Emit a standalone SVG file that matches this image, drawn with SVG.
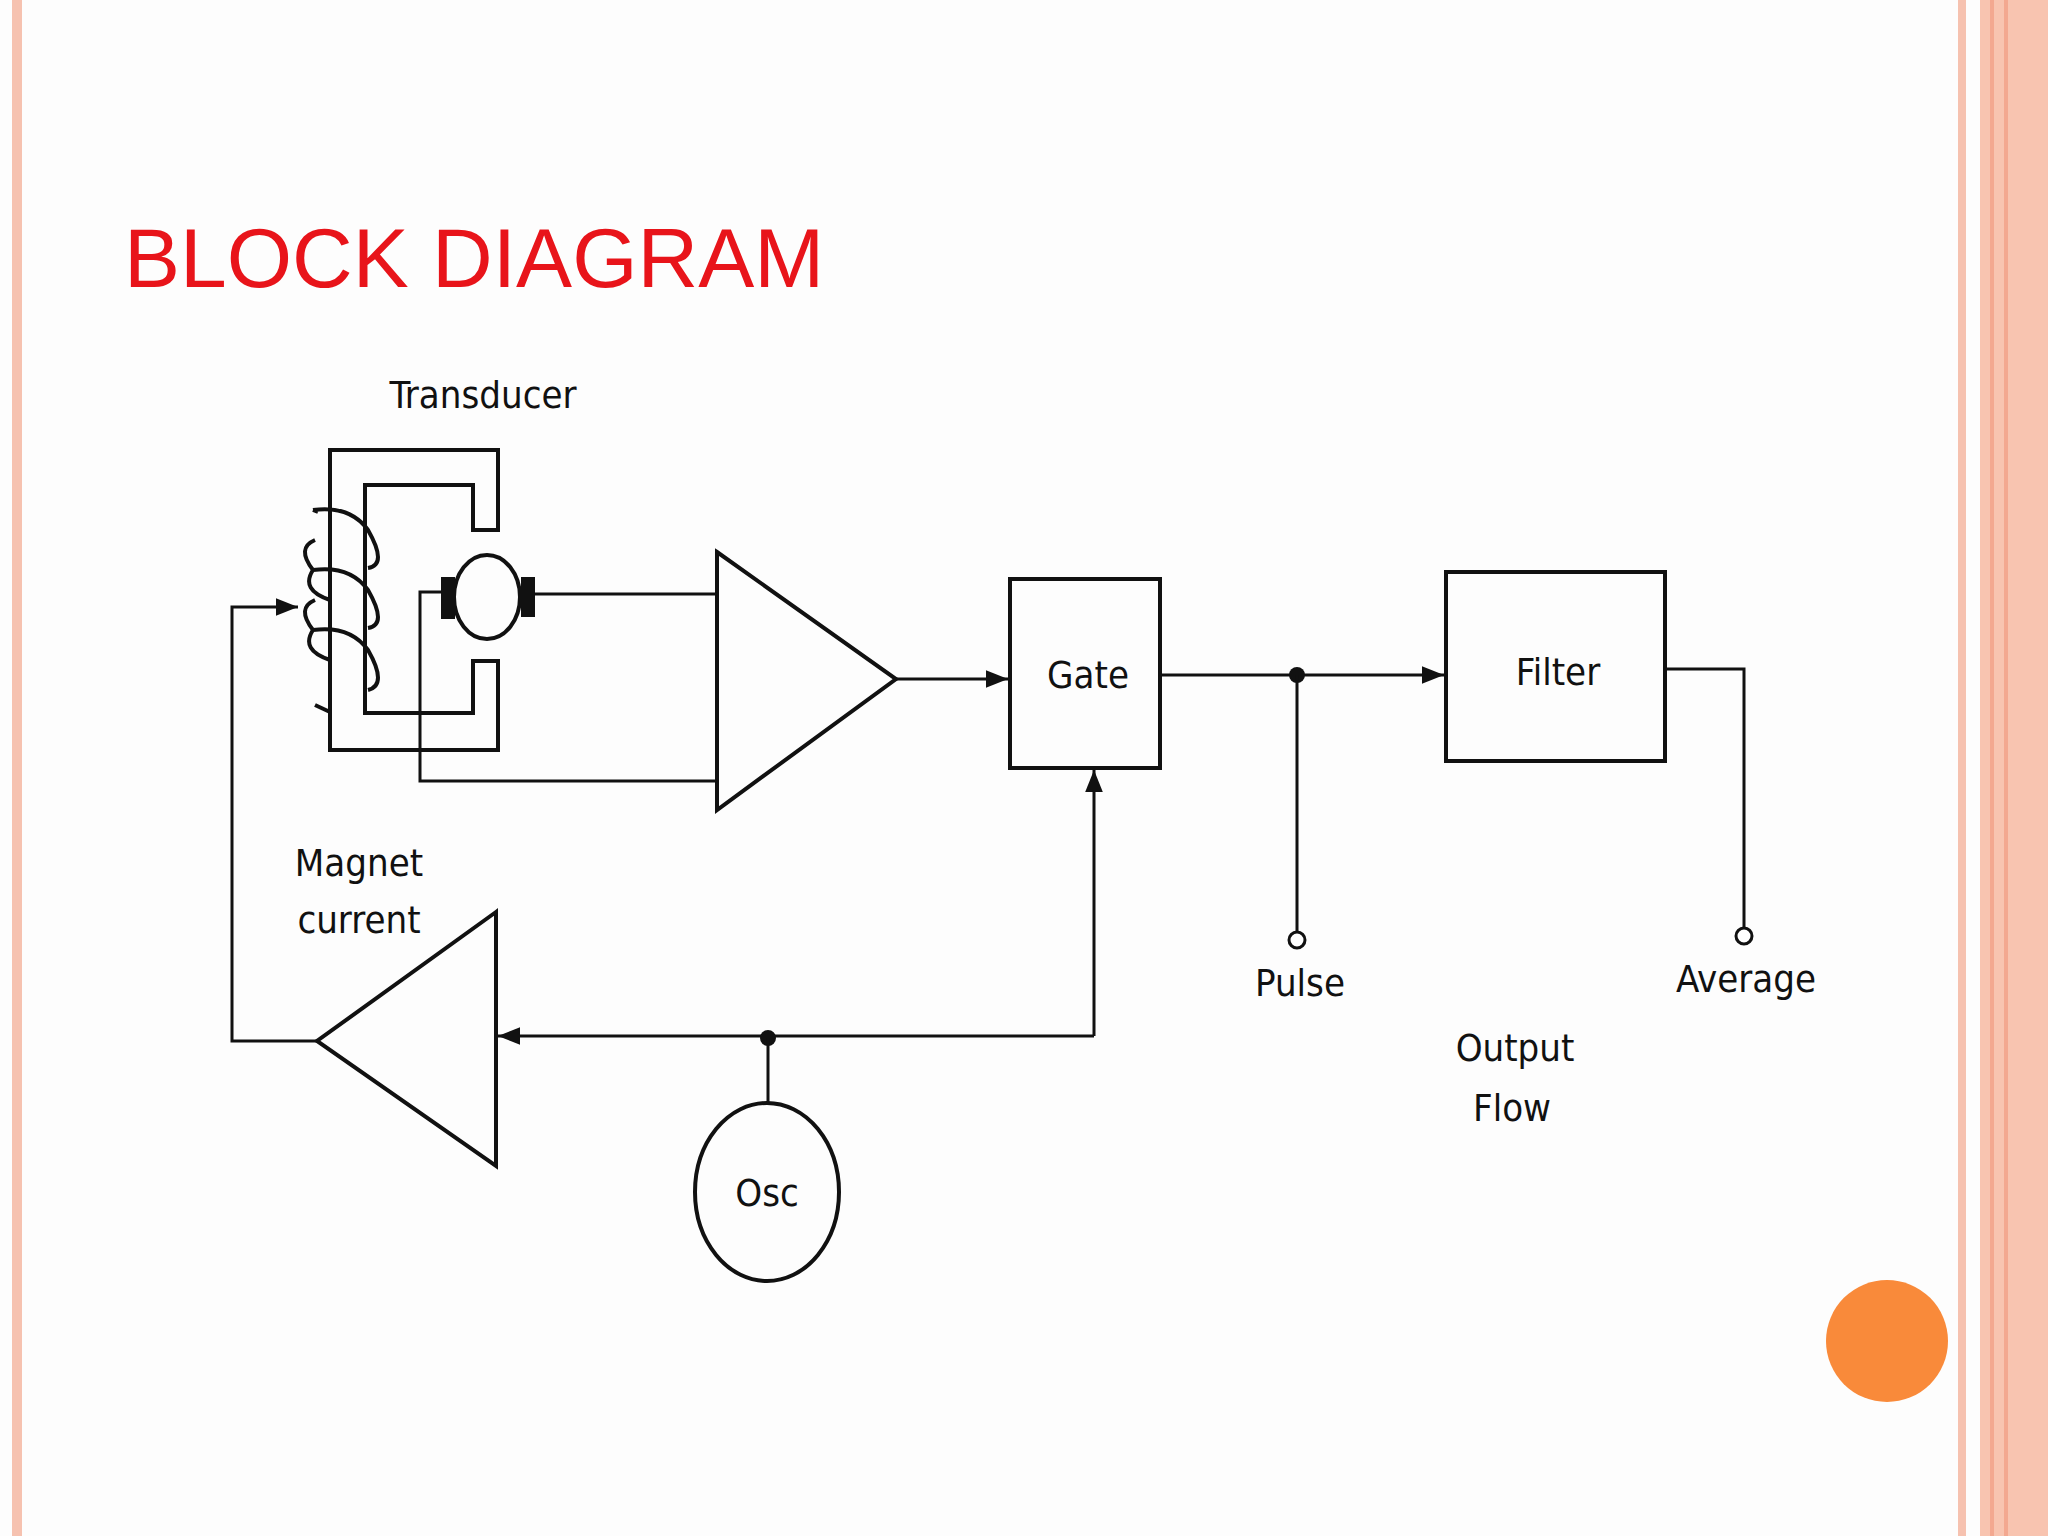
<svg xmlns="http://www.w3.org/2000/svg" width="2048" height="1536" viewBox="0 0 2048 1536">
<defs>
<style>
.l{fill:none;stroke:#111;stroke-width:4;stroke-linejoin:miter}
.t{font-family:"DejaVu Sans Condensed","DejaVu Sans",sans-serif;font-size:38px;fill:#111;text-anchor:middle}
</style>
<marker id="a2" viewBox="0 0 10 10" refX="10" refY="5" markerWidth="28" markerHeight="22" markerUnits="userSpaceOnUse" orient="auto"><path d="M0,1 L10,5 L0,9 z" fill="#111"/></marker>
</defs>
<rect width="2048" height="1536" fill="#fdfdfd"/>
<g id="borders">
<rect x="12" y="0" width="10" height="1536" fill="#f6c2b0"/>
<rect x="1958" y="0" width="8" height="1536" fill="#f6c2b0"/>
<rect x="1980" y="0" width="68" height="1536" fill="#f8c4b0"/>
<rect x="1990" y="0" width="4" height="1536" fill="#f3a890"/>
<rect x="2004" y="0" width="4" height="1536" fill="#f3a890"/>
</g>
<text x="124" y="287" font-family="Liberation Sans,Arial,sans-serif" font-size="84" fill="#e8141a">BLOCK DIAGRAM</text>
<circle cx="1887" cy="1341" r="61" fill="#f98a3a"/>
<g id="transducer">
<path class="l" d="M330,450 H498 V530 H473 V485 H365 V713 H473 V661 H498 V750 H330 Z"/>
<path class="l" d="M313,510 Q350,505 368,530 Q388,565 368,568 M313,570 Q300,590 330,600 M313,570 Q350,565 368,590 Q388,625 368,628 M313,630 Q300,650 330,660 M313,630 Q350,625 368,650 Q388,685 368,690 M313,510 L318,512 M315,705 L330,712"/>
<path class="l" d="M313,570 Q296,548 315,540 M313,630 Q296,608 315,600"/>
<ellipse cx="487" cy="597" rx="33" ry="42" class="l"/>
<rect x="441" y="577" width="14" height="42" fill="#111"/>
<rect x="521" y="577" width="14" height="40" fill="#111"/>
<text class="t" x="483" y="408">Transducer</text>
</g>
<g id="amp1"><path class="l" d="M717,552 L896,679 L717,810 Z"/></g>
<g id="gate"><rect class="l" x="1010" y="579" width="150" height="189"/><text class="t" x="1088" y="688">Gate</text></g>
<g id="filter"><rect class="l" x="1446" y="572" width="219" height="189"/><text class="t" x="1558" y="685">Filter</text></g>
<g id="amp2"><path class="l" d="M496,912 L317,1041 L496,1166 Z"/></g>
<g id="osc"><ellipse class="l" cx="767" cy="1192" rx="72" ry="89"/><text class="t" x="767" y="1206">Osc</text></g>
<g id="labels">
<text class="t" x="359" y="876">Magnet</text>
<text class="t" x="359" y="933">current</text>
<text class="t" x="1300" y="996">Pulse</text>
<text class="t" x="1746" y="992">Average</text>
<text class="t" x="1515" y="1061">Output</text>
<text class="t" x="1512" y="1121">Flow</text>
</g>
<g id="connectors">
<path class="l" style="stroke-width:3" d="M535,594 H717"/>
<path class="l" style="stroke-width:3" d="M441,592 H420 V781 H717"/>
<path class="l" style="stroke-width:3" d="M896,679 H1008" marker-end="url(#a2)"/>
<path class="l" style="stroke-width:3" d="M1160,675 H1444" marker-end="url(#a2)"/>
<circle cx="1297" cy="675" r="8" fill="#111"/>
<path class="l" style="stroke-width:3" d="M1297,675 V932"/>
<circle cx="1297" cy="940" r="8" fill="#fff" stroke="#111" stroke-width="3"/>
<path class="l" style="stroke-width:3" d="M1665,669 H1744 V928"/>
<circle cx="1744" cy="936" r="8" fill="#fff" stroke="#111" stroke-width="3"/>
<path class="l" style="stroke-width:3" d="M1094,1036 V770" marker-end="url(#a2)"/>
<path class="l" style="stroke-width:3" d="M1094,1036 H498" marker-end="url(#a2)"/>
<circle cx="768" cy="1038" r="8" fill="#111"/>
<path class="l" style="stroke-width:3" d="M768,1038 V1103"/>
<path class="l" style="stroke-width:3" d="M317,1041 H232 V607 H298" marker-end="url(#a2)"/>
</g>
</svg>
